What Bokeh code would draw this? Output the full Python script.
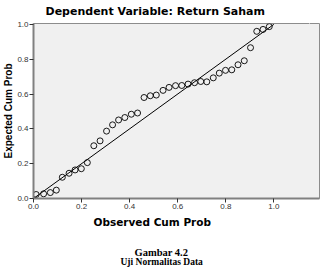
from bokeh.plotting import figure
from bokeh.models import Range1d, FixedTicker, PrintfTickFormatter, LinearAxis, Title
from bokeh.embed import file_html
from bokeh.resources import INLINE

# Data
observed = [0.011, 0.042, 0.070, 0.095, 0.120, 0.148, 0.173, 0.199, 0.224, 0.251,
            0.277, 0.304, 0.329, 0.354, 0.380, 0.407, 0.433, 0.460, 0.486, 0.511,
            0.539, 0.564, 0.591, 0.617, 0.643, 0.670, 0.696, 0.721, 0.748, 0.773,
            0.799, 0.825, 0.851, 0.877, 0.903, 0.929, 0.955, 0.981]
expected = [0.023, 0.027, 0.034, 0.048, 0.122, 0.145, 0.164, 0.171, 0.206, 0.303,
            0.331, 0.387, 0.423, 0.451, 0.465, 0.484, 0.491, 0.580, 0.590, 0.594,
            0.621, 0.638, 0.648, 0.649, 0.657, 0.665, 0.672, 0.670, 0.693, 0.720,
            0.736, 0.739, 0.768, 0.791, 0.866, 0.960, 0.971, 0.987]
ref_line_x = [0.0, 1.0]
ref_line_y = [0.0, 1.0]
tick_values = [0.0, 0.2, 0.4, 0.6, 0.8, 1.0]

title_text = "Dependent Variable: Return Saham"
x_label = "Observed Cum Prob"
y_label = "Expected Cum Prob"
caption1 = "Gambar 4.2"
caption2 = "Uji Normalitas Data"

W, H = 321, 268
LEFT, RIGHT, TOP, BOTTOM = 33, 2, 23, 70

p = figure(width=W, height=H, output_backend="svg", toolbar_location=None,
           x_range=Range1d(0, 1.19), y_range=Range1d(0, 1.005),
           min_border_left=LEFT, min_border_right=RIGHT,
           min_border_top=TOP, min_border_bottom=BOTTOM)
p.background_fill_color = "#f0f0f0"
p.border_fill_color = "white"
p.outline_line_color = "#8c8c8c"
p.outline_line_width = 1
p.xgrid.visible = False
p.ygrid.visible = False

for ax in (p.xaxis[0], p.yaxis[0]):
    ax.ticker = FixedTicker(ticks=tick_values)
    ax.formatter = PrintfTickFormatter(format="%.1f")
    ax.axis_line_color = "#808080"
    ax.axis_line_width = 2
    ax.major_tick_line_color = "#333333"
    ax.major_tick_out = 4
    ax.major_tick_in = 0
    ax.minor_tick_line_color = None
    ax.major_label_text_font = "Liberation Sans"
    ax.major_label_text_font_size = "8px"
    ax.major_label_text_color = "#333333"
    ax.major_label_standoff = 1

p.yaxis[0].axis_label = y_label
p.yaxis[0].axis_label_text_font = "Liberation Sans"
p.yaxis[0].axis_label_text_font_style = "bold"
p.yaxis[0].axis_label_text_font_size = "10px"
p.yaxis[0].axis_label_text_color = "black"
p.yaxis[0].axis_label_standoff = 0


def spacer(gap):
    # axis drawn white on white: only reserves vertical room between texts
    return LinearAxis(ticker=FixedTicker(ticks=[1.15]), axis_line_color=None,
                      major_tick_line_color="white", minor_tick_line_color=None,
                      major_tick_out=gap, major_tick_in=0, major_label_standoff=0,
                      major_label_text_color=None, major_label_text_font_size="1px")


def text_title(text, offset, font, size, standoff):
    return Title(text=text, align="left", offset=offset, text_font=font,
                 text_font_style="bold", text_font_size=size, text_color="black",
                 standoff=standoff)


p.title.text = title_text
p.title.align = "left"
p.title.offset = 12
p.title.text_font = "DejaVu Sans"
p.title.text_font_style = "bold"
p.title.text_font_size = "11px"
p.title.text_color = "black"
p.title.standoff = 0
p.add_layout(spacer(6), "above")

p.add_layout(text_title(x_label, 60, "DejaVu Sans", "10.5px", 4), "below")
p.add_layout(spacer(15), "below")
p.add_layout(text_title(caption1, 101, "Liberation Serif", "10.5px", 0), "below")
p.add_layout(text_title(caption2, 87, "Liberation Serif", "9.5px", -6), "below")

p.line(ref_line_x, ref_line_y, line_color="black", line_width=1)
p.scatter(observed, expected, marker="circle", size=6, fill_color=None,
          line_color="black", line_width=0.9)

open("out.html", "w").write(file_html(p, INLINE))
